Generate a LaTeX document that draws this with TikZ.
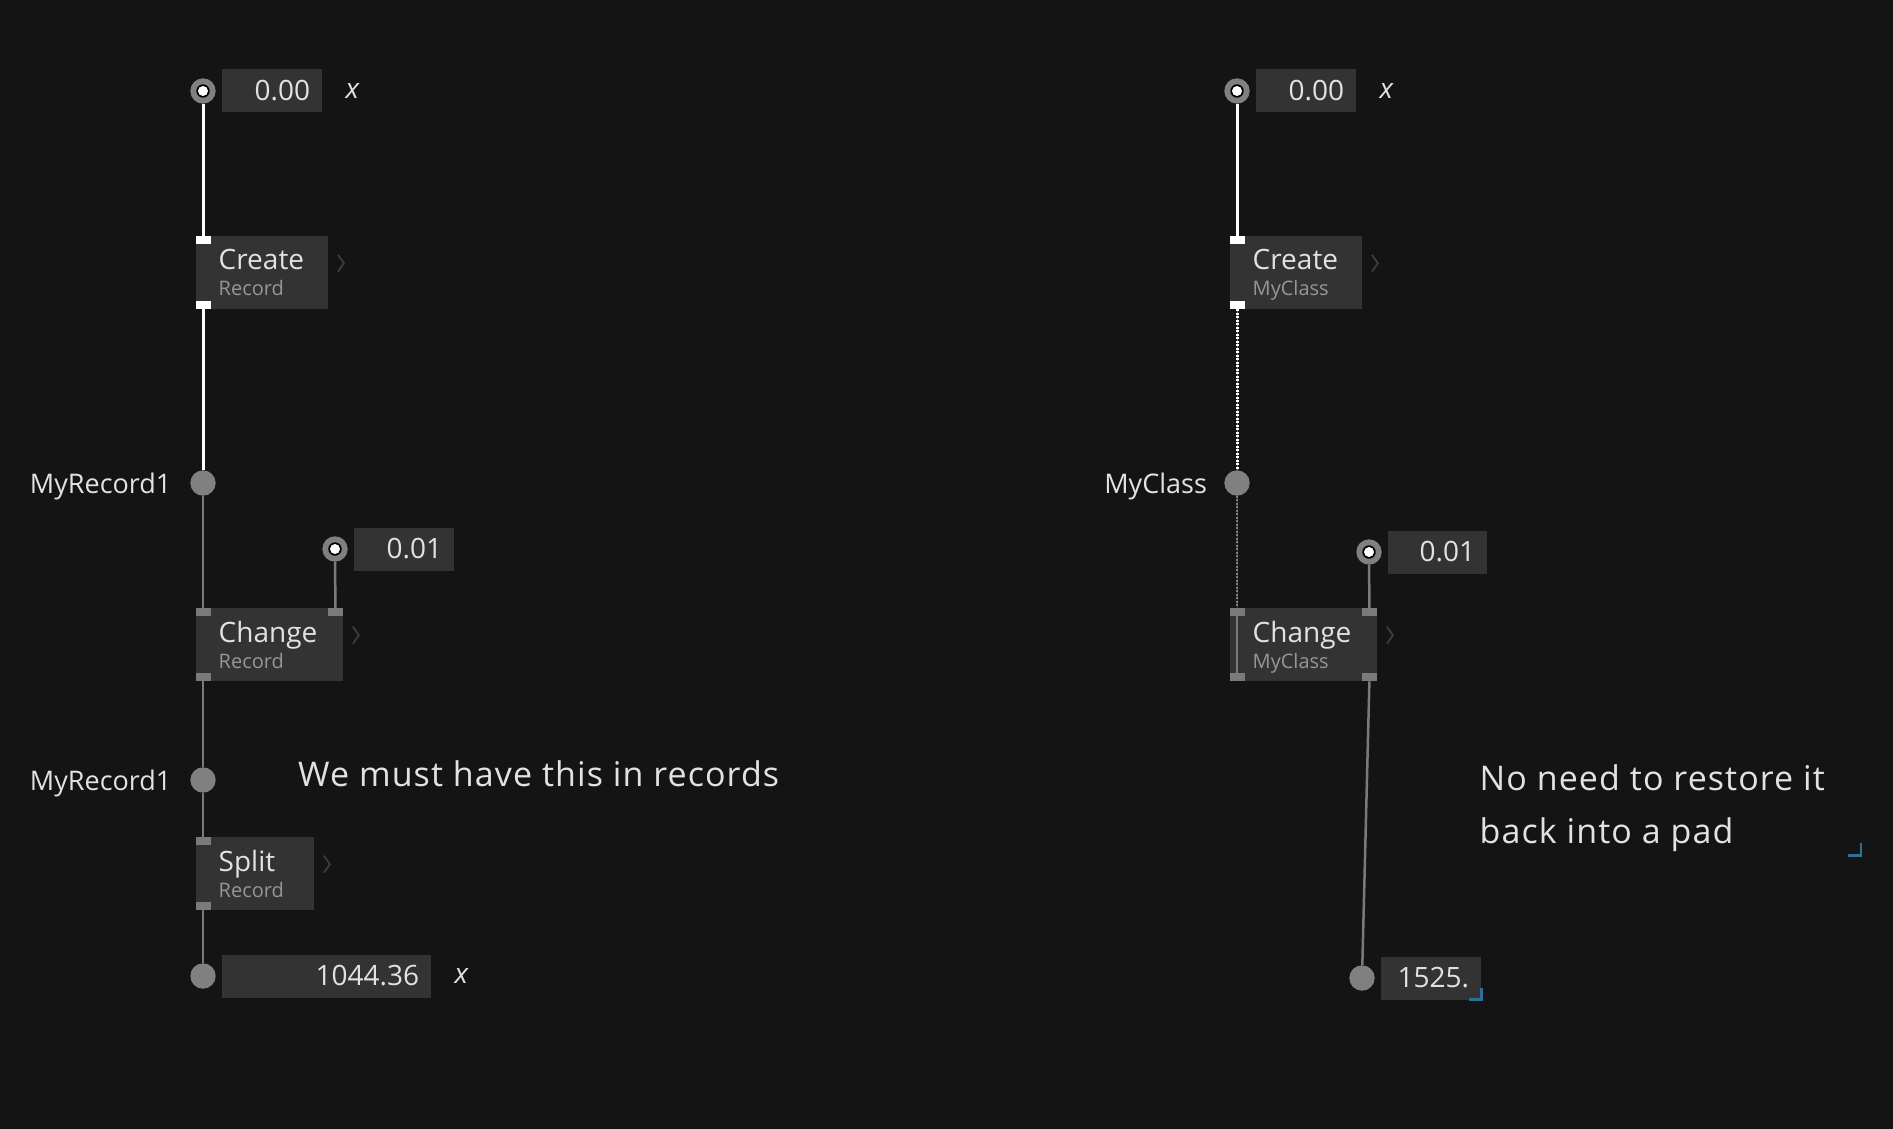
\documentclass[tikz,border=0pt]{standalone}
\usepackage{fontspec}
\setmainfont{Open Sans}
\usetikzlibrary{positioning}

\definecolor{bg}{HTML}{141414}
\definecolor{boxgray}{HTML}{333333}
\definecolor{padgray}{HTML}{808080}
\definecolor{wiregray}{HTML}{7A7A7A}
\definecolor{titlecol}{HTML}{E2E2E2}
\definecolor{subcol}{HTML}{969696}
\definecolor{chevcol}{HTML}{3C3C3C}
\definecolor{handle}{HTML}{2F6F96}

\newcommand{\titlefont}{\fontsize{28}{26}\selectfont}
\newcommand{\subtitle}[1]{{\fontsize{20}{26}\selectfont\color{subcol}\smash{#1}}}
\newcommand{\notefont}{\fontsize{34}{53}\selectfont\addfontfeatures{LetterSpace=3.2}}

\newcommand{\pintl}[2]{\fill[#1] (#2.north west) rectangle ++(15,8);}
\newcommand{\pinbl}[2]{\fill[#1] (#2.south west) rectangle ++(15,-8);}
\newcommand{\pintr}[2]{\fill[#1] (#2.north east) rectangle ++(-15,8);}
\newcommand{\pinbr}[2]{\fill[#1] (#2.south east) rectangle ++(-15,-8);}
\newcommand{\chevron}[1]{\draw[chev] ([xshift=10pt,yshift=18pt]#1.east) -- ++(6,8.5) -- ++(-6,8.5);}

\tikzset{
  opnode/.style={fill=boxgray, anchor=north west, inner xsep=23pt, inner ysep=0pt,
    minimum height=73pt, text width=#1, align=left, text=titlecol, font=\titlefont},
  valbox/.style={fill=boxgray, inner xsep=12pt, inner ysep=0pt, minimum height=43pt,
    text width=#1, align=right, text=titlecol, font=\titlefont},
  iopin/.style={circle, fill=padgray, minimum size=25.4pt, inner sep=0pt,
    path picture={\fill[black] (path picture bounding box.center) circle (6.7pt);
      \fill[white] (path picture bounding box.center) circle (5pt);}},
  pad/.style={circle, fill=padgray, minimum size=25.4pt, inner sep=0pt},
  padlbl/.style={inner sep=0pt, text=titlecol, font=\fontsize{27}{26}\selectfont, text height=20pt, text depth=0pt},
  xlbl/.style={inner sep=0pt, text=titlecol, font=\titlefont\itshape},
  note/.style={inner sep=0pt, text=titlecol, font=\notefont, align=left},
  wirew/.style={white, line width=3pt},
  wireg/.style={wiregray, line width=2.5pt},
  dotw/.style={white, line width=3pt, dash pattern=on 2pt off 1.5pt, preaction={draw, padgray, solid}},
  dotg/.style={padgray, line width=2.5pt, dash pattern=on 2pt off 1.5pt, preaction={draw, wiregray!55!black, solid}},
  chev/.style={chevcol, line width=1.8pt},
  corner/.style={handle, line width=2.5pt}
}

\begin{document}
\begin{tikzpicture}[x=1pt, y=-1pt]
\fill[bg] (0,0) rectangle (1893,1129);

% record side
\node[iopin] (in1) at (203,91) {};
\node[valbox=76pt, right=6pt of in1] (val1) {0.00};
\node[xlbl, right=23pt of val1] (x1) {x};
\node[opnode=86pt] (create1) at (195.5,236) {Create\\\subtitle{Record}};
\node[pad] (pad1) at (203,483) {};
\node[padlbl, left=18.5pt of pad1] (lbl1) {MyRecord1};
\node[iopin] (in2) at (335,549) {};
\node[valbox=76pt, right=6pt of in2] (val2) {0.01};
\node[opnode=101pt] (change1) at (195.5,608) {Change\\\subtitle{Record}};
\node[pad] (pad2) at (203,780) {};
\node[padlbl, left=18.5pt of pad2] (lbl2) {MyRecord1};
\node[opnode=72pt] (split1) at (195.5,837) {Split\\\subtitle{Record}};
\node[pad] (pad3) at (203,976) {};
\node[valbox=185pt, right=6pt of pad3] (val3) {1044.36};
\node[xlbl, right=23pt of val3] (x3) {x};
\node[note, anchor=base west] (note1) at (298,786) {We must have this in records};

\draw[wirew] (in1) -- ([xshift=7.5pt]create1.north west);
\draw[wirew] ([xshift=7.5pt]create1.south west) -- (pad1);
\draw[wireg] (pad1) -- ([xshift=7.5pt]change1.north west);
\draw[wireg] (in2) -- ([xshift=-7.5pt]change1.north east);
\draw[wireg] ([xshift=7.5pt]change1.south west) -- (pad2);
\draw[wireg] (pad2) -- ([xshift=7.5pt]split1.north west);
\draw[wireg] ([xshift=7.5pt]split1.south west) -- (pad3);

\pintl{white}{create1} \pinbl{white}{create1}
\pintl{wiregray}{change1} \pintr{wiregray}{change1} \pinbl{wiregray}{change1}
\pintl{wiregray}{split1} \pinbl{wiregray}{split1}
\chevron{create1} \chevron{change1} \chevron{split1}

% class side
\node[iopin] (in3) at (1237,91) {};
\node[valbox=76pt, right=6pt of in3] (val4) {0.00};
\node[xlbl, right=23pt of val4] (x4) {x};
\node[opnode=86pt] (create2) at (1229.5,236) {Create\\\subtitle{MyClass}};
\node[pad] (pad4) at (1237,483) {};
\node[padlbl, left=17pt of pad4] (lbl4) {MyClass};
\node[iopin] (in4) at (1369,552) {};
\node[valbox=75pt, right=6pt of in4] (val5) {0.01};
\node[opnode=101pt] (change2) at (1229.5,608) {Change\\\subtitle{MyClass}};
\node[pad] (pad5) at (1362,978) {};
\node[valbox=76pt, right=6pt of pad5] (val6) {1525.};
\node[note, anchor=north west] (note2) at (1479.5,764) {No need to restore it\\back into a pad};

\draw[wirew] (in3) -- ([xshift=7.5pt]create2.north west);
\draw[dotw] ([xshift=7.5pt]create2.south west) -- (pad4);
\draw[dotg] (pad4) -- ([xshift=7.5pt]change2.north west);
\draw[wireg] ([xshift=7.5pt]change2.north west) -- ([xshift=7.5pt]change2.south west);
\draw[wireg] (in4) -- ([xshift=-7.5pt]change2.north east);
\draw[wireg] ([xshift=-7.5pt]change2.south east) -- (pad5);

\pintl{white}{create2} \pinbl{white}{create2}
\pintl{wiregray}{change2} \pintr{wiregray}{change2}
\pinbl{wiregray}{change2} \pinbr{wiregray}{change2}
\chevron{create2} \chevron{change2}

\draw[corner] ([xshift=-12pt]val6.south east) -- (val6.south east) -- ([yshift=12pt]val6.south east);
\draw[corner] (1848,855.5) -- (1861,855.5) -- (1861,843);
\end{tikzpicture}
\end{document}
